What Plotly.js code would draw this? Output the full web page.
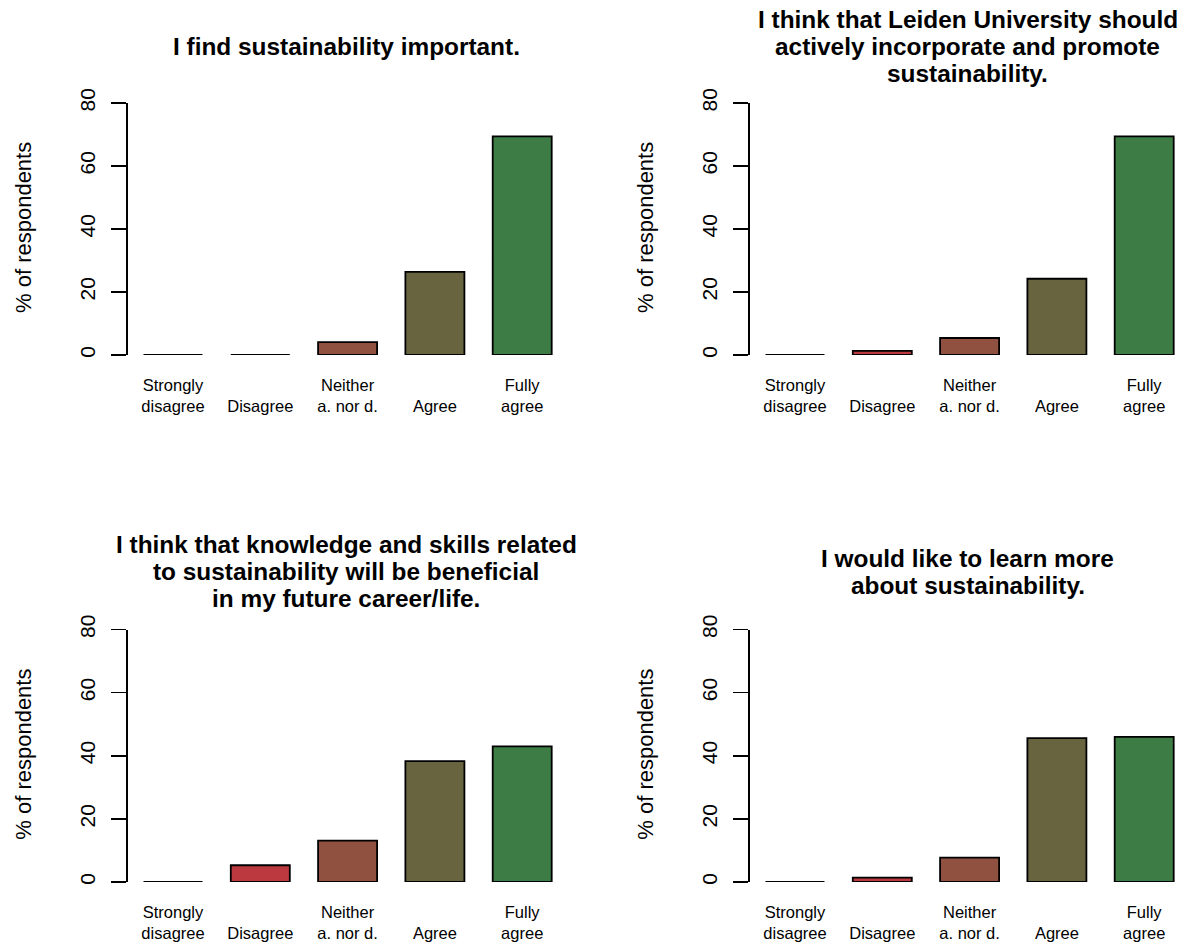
<!DOCTYPE html>
<html>
<head>
<meta charset="utf-8">
<script src="https://cdn.plot.ly/plotly-3.0.1.min.js"></script>
<style>html,body{margin:0;padding:0;background:#fff;}#chart{width:1185px;height:942px;}</style>
</head>
<body>
<div id="chart"></div>
<script>
// ---- data ----
const categories = ["Strongly disagree", "Disagree", "Neither agree nor disagree", "Agree", "Fully agree"];
const tickLabels = ["Strongly<br>disagree", "\u00a0<br>Disagree", "Neither<br>a. nor d.", "\u00a0<br>Agree", "Fully<br>agree"];
const barColors = ["#8E1E24", "#BC3A3F", "#905140", "#686440", "#3D7C44"];

const important = [0, 0, 4.1, 26.4, 69.4];
const leidenPromote = [0, 1.3, 5.4, 24.2, 69.4];
const beneficialCareer = [0, 5.3, 13.1, 38.3, 43.0];
const learnMore = [0, 1.4, 7.7, 45.6, 46.0];

const title1 = ["I find sustainability important."];
const title2 = ["I think that Leiden University should", "actively incorporate and promote", "sustainability."];
const title3 = ["I think that knowledge and skills related", "to sustainability will be beneficial", "in my future career/life."];
const title4 = ["I would like to learn more", "about sustainability."];

const yTicks = [0, 20, 40, 60, 80];
const yLabel = "% of respondents";

// ---- layout geometry (pixels) ----
const W = 1185, H = 942;
const FONT = "Liberation Sans, Arial, Helvetica, sans-serif";
const panels = [
  {vals: important, title: title1, x0: 127.6, x1: 567.4, yTop: 103, yZero: 355, titleX: 346, titleMid: 55, ylabX: 24},
  {vals: leidenPromote, title: title2, x0: 749.6, x1: 1185, yTop: 103, yZero: 355, titleX: 968, titleMid: 55, ylabX: 646},
  {vals: beneficialCareer, title: title3, x0: 127.6, x1: 567.4, yTop: 629.5, yZero: 882, titleX: 346, titleMid: 580, ylabX: 24},
  {vals: learnMore, title: title4, x0: 749.6, x1: 1185, yTop: 629.5, yZero: 882, titleX: 968, titleMid: 580, ylabX: 646}
];
const unitPx = 87.3;

const traces = [];
const layout = {
  width: W, height: H,
  margin: {l: 0, r: 0, t: 0, b: 0},
  paper_bgcolor: "#ffffff", plot_bgcolor: "#ffffff",
  showlegend: false,
  bargap: 0.324,
  font: {family: FONT, color: "#000"},
  annotations: []
};

panels.forEach((p, i) => {
  const n = i === 0 ? "" : String(i + 1);
  traces.push({
    type: "bar",
    x: categories,
    y: p.vals,
    xaxis: "x" + n, yaxis: "y" + n,
    marker: {color: barColors, line: {color: "#000", width: 1.8}},
    cliponaxis: false,
    hoverinfo: "x+y"
  });
  const left = -0.52;
  const right = left + (p.x1 - p.x0) / unitPx;
  layout["xaxis" + n] = {
    domain: [p.x0 / W, p.x1 / W],
    anchor: "y" + n,
    type: "category",
    range: [left, right],
    tickvals: categories,
    ticktext: tickLabels,
    showline: false, showgrid: false, zeroline: false,
    ticks: "",
    ticklabelstandoff: 18,
    tickfont: {family: FONT, size: 16.5, color: "#000"},
    fixedrange: true
  };
  layout["yaxis" + n] = {
    domain: [1 - p.yZero / H, 1 - p.yTop / H],
    anchor: "x" + n,
    range: [0, 80],
    tickvals: yTicks,
    ticktext: yTicks.map(String),
    tickangle: -90,
    showline: true, linecolor: "#000", linewidth: 1.5,
    ticks: "outside", ticklen: 15, tickwidth: 1.5, tickcolor: "#000",
    showgrid: false, zeroline: false,
    ticklabelstandoff: 8,
    tickfont: {family: FONT, size: 21, color: "#000"},
    fixedrange: true
  };
  // title lines
  const lineH = 27;
  const nL = p.title.length;
  p.title.forEach((line, k) => {
    const baseline = p.titleMid + (k - (nL - 1) / 2) * lineH;
    layout.annotations.push({
      text: "<b>" + line + "</b>",
      xref: "paper", yref: "paper",
      x: p.titleX / W, y: 1 - (baseline - 8.5) / H,
      xanchor: "center", yanchor: "middle",
      showarrow: false,
      font: {family: FONT, size: 24.4, color: "#000"}
    });
  });
  // y axis label
  layout.annotations.push({
    text: yLabel,
    xref: "paper", yref: "paper",
    x: p.ylabX / W, y: 1 - ((p.yTop + p.yZero) / 2 - 1) / H,
    xanchor: "center", yanchor: "middle",
    textangle: -90,
    showarrow: false,
    font: {family: FONT, size: 22, color: "#000"}
  });
});

Plotly.newPlot("chart", traces, layout, {staticPlot: true, displayModeBar: false});
</script>
</body>
</html>
